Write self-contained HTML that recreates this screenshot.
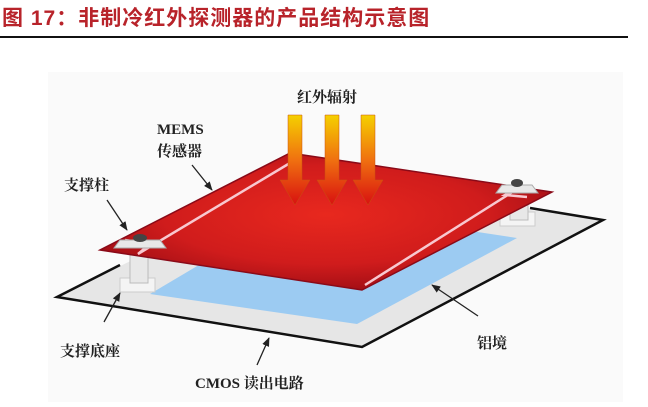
<!DOCTYPE html>
<html><head><meta charset="utf-8"><style>
body{margin:0;width:648px;height:402px;background:#fff;overflow:hidden;font-family:"Liberation Sans","Noto Sans CJK SC",sans-serif}
</style></head><body>
<svg width="648" height="402" viewBox="0 0 648 402" xmlns="http://www.w3.org/2000/svg">
<defs>
<radialGradient id="rg" cx="0.5" cy="0.45" r="0.6">
<stop offset="0" stop-color="#e8281e"/><stop offset="0.6" stop-color="#d01c1c"/><stop offset="1" stop-color="#9a0c14"/>
</radialGradient>
<linearGradient id="ag" x1="0" y1="0" x2="0" y2="1">
<stop offset="0" stop-color="#f5d000"/><stop offset="0.5" stop-color="#f07010"/><stop offset="1" stop-color="#d81010"/>
</linearGradient>
<marker id="m" viewBox="0 0 10 10" refX="9" refY="5" markerWidth="7" markerHeight="7" orient="auto"><path d="M0,1 L10,5 L0,9 z" fill="#222"/></marker>
</defs>
<rect x="48" y="72" width="575" height="330" fill="#fafafa"/>
<text x="2" y="25" font-size="21" font-weight="bold" fill="#b8232a" letter-spacing="1" font-family="Liberation Sans,'Noto Sans CJK SC',sans-serif">图 17：非制冷红外探测器的产品结构示意图</text>
<rect x="0" y="36" width="628" height="2" fill="#111"/>
<!-- base -->
<polygon points="57,297 362,347 603,220 300,178" fill="#e6e6e6"/>
<polyline points="120,265 57,297 362,347 603,220 530,208" fill="none" stroke="#111" stroke-width="2.5"/>
<!-- blue -->
<polygon points="150,294 357,324 517,238 300,205" fill="#9ccbf2"/>
<!-- pillars -->
<rect x="120" y="278" width="35" height="14" fill="#f4f4f4" stroke="#ccc"/>
<rect x="130" y="255" width="18" height="28" fill="#e8e8e8" stroke="#bbb"/>
<rect x="500" y="212" width="35" height="14" fill="#f4f4f4" stroke="#ccc"/>
<rect x="510" y="192" width="18" height="28" fill="#e8e8e8" stroke="#bbb"/>
<!-- red plate -->
<polygon points="100,250 362,290 552,192 290,153" fill="url(#rg)" stroke="#8a0a18" stroke-width="1.5"/>
<polyline points="125,240 150,244 138,254 290,163" fill="none" stroke="#f8c8d0" stroke-width="2.5"/>
<polyline points="527,197 505,195 522,186 365,285" fill="none" stroke="#f8c8d0" stroke-width="2.5"/>
<!-- pads -->
<polygon points="120,240 160,240 166,248 114,248" fill="#e8e8e8" stroke="#aaa"/>
<ellipse cx="140" cy="238" rx="7" ry="4" fill="#444"/>
<polygon points="502,185 532,185 538,193 496,193" fill="#e8e8e8" stroke="#aaa"/>
<ellipse cx="517" cy="183" rx="6" ry="4" fill="#444"/>
<!-- arrows -->
<g fill="url(#ag)" stroke="#c85010" stroke-width="0.5">
<path d="M288,115 h14 v65 h8 l-15,25 l-15,-25 h8 z"/>
<path d="M325,115 h14 v65 h8 l-15,25 l-15,-25 h8 z"/>
<path d="M361,115 h14 v65 h8 l-15,25 l-15,-25 h8 z"/>
</g>
<!-- leader arrows -->
<g stroke="#222" stroke-width="1.3" marker-end="url(#m)">
<line x1="192" y1="165" x2="212" y2="190"/>
<line x1="107" y1="200" x2="127" y2="230"/>
<line x1="104" y1="322" x2="120" y2="293"/>
<line x1="257" y1="365" x2="269" y2="338"/>
<line x1="478" y1="316" x2="432" y2="285"/>
</g>
<g font-size="15" font-weight="bold" fill="#222" font-family="Liberation Serif,'Noto Serif CJK SC',serif">
<text x="297" y="102">红外辐射</text>
<text x="157" y="134">MEMS</text>
<text x="157" y="156">传感器</text>
<text x="64" y="190">支撑柱</text>
<text x="60" y="356">支撑底座</text>
<text x="195" y="388">CMOS 读出电路</text>
<text x="477" y="348">铝境</text>
</g>
</svg>
</body></html>
